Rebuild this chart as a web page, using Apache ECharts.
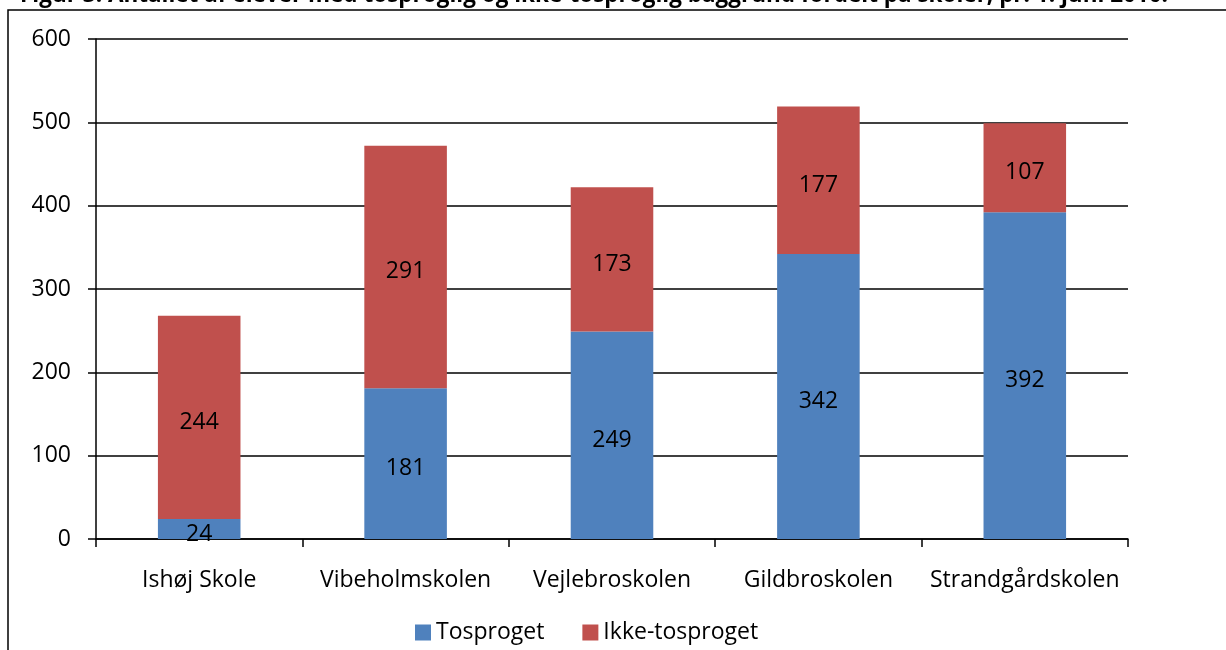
<!DOCTYPE html>
<html>
<head>
<meta charset="utf-8">
<script src="https://cdn.jsdelivr.net/npm/echarts@6/dist/echarts.min.js"></script>
<style>
  html, body { margin: 0; padding: 0; background: #fff; }
  #graph { width: 1226px; height: 650px; }
</style>
</head>
<body>
<div id="graph"></div>
<script>
var titleText = 'Figur 3: Antallet af elever med tosproglig og ikke-tosproglig baggrund fordelt på skoler, pr. 1. juni 2010.';
var schools = ['Ishøj Skole', 'Vibeholmskolen', 'Vejlebroskolen', 'Gildbroskolen', 'Strandgårdskolen'];
var tosproget = [24, 181, 249, 342, 392];
var ikkeTosproget = [244, 291, 173, 177, 107];
var yTicks = [0, 100, 200, 300, 400, 500, 600];

var font = '"Open Sans", "Noto Sans", sans-serif';
var chart = echarts.init(document.getElementById('graph'));

var option = {
  animation: false,
  textStyle: { fontFamily: font },
  graphic: [
    {
      type: 'rect',
      shape: { x: 8, y: 10, width: 1300, height: 700 },
      style: { fill: 'none', stroke: '#000', lineWidth: 1.5 },
      silent: true
    },
    {
      type: 'text',
      left: 20,
      top: -16,
      style: {
        text: titleText,
        font: 'bold 22.5px ' + font,
        fill: '#000'
      }
    }
  ],
  legend: {
    data: ['Tosproget', 'Ikke-tosproget'],
    top: 616,
    left: 410,
    itemWidth: 16,
    itemHeight: 16,
    itemGap: 38,
    icon: 'rect',
    textStyle: { fontSize: 23, color: '#000', fontFamily: font }
  },
  grid: { left: 96, right: 98, top: 39, bottom: 111 },
  xAxis: {
    type: 'category',
    data: schools,
    axisLine: { lineStyle: { color: '#000', width: 1.5 } },
    axisTick: { show: true, length: 8, lineStyle: { color: '#000', width: 1.5 } },
    axisLabel: { fontSize: 23, color: '#000', margin: 30, interval: 0 }
  },
  yAxis: {
    type: 'value',
    min: 0,
    max: 600,
    interval: 100,
    axisLine: { show: true, lineStyle: { color: '#000', width: 1.5 } },
    axisTick: { show: true, length: 8, lineStyle: { color: '#000', width: 1.5 } },
    axisLabel: {
      fontSize: 23, color: '#000', margin: 25,
      formatter: function (v) { return yTicks.indexOf(v) >= 0 ? String(v) : ''; }
    },
    splitLine: { show: true, lineStyle: { color: '#000', width: 1.5 } }
  },
  series: [
    {
      name: 'Tosproget',
      type: 'bar',
      stack: 'total',
      barWidth: '40%',
      itemStyle: { color: '#4F81BD' },
      label: { show: true, position: 'inside', offset: [0, 5], fontSize: 23, color: '#000' },
      data: tosproget
    },
    {
      name: 'Ikke-tosproget',
      type: 'bar',
      stack: 'total',
      barWidth: '40%',
      itemStyle: { color: '#C0504D' },
      label: { show: true, position: 'inside', offset: [0, 5], fontSize: 23, color: '#000' },
      data: ikkeTosproget
    }
  ]
};

chart.setOption(option);
</script>
</body>
</html>
